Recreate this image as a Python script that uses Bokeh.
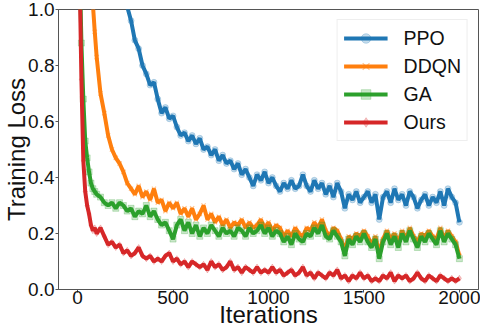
from bokeh.plotting import figure
from bokeh.models import Legend, LegendItem, FixedTicker, PrintfTickFormatter, Range1d
from bokeh.embed import file_html
from bokeh.resources import INLINE

# ---- data ----
iterations = [0, 10, 20, 30, 40, 50, 60, 70, 80, 90, 100] + list(range(120, 2001, 20))

ppo = [2.40, 2.30, 2.20, 2.10, 2.02, 1.95, 1.88, 1.82, 1.76, 1.71, 1.66,
       1.57, 1.48, 1.40, 1.32, 1.24, 1.16, 1.08, 1.01, 0.96, 0.89,
       0.86, 0.80, 0.77, 0.73, 0.74, 0.68, 0.63, 0.65, 0.61, 0.62,
       0.58, 0.55, 0.56, 0.53, 0.55, 0.52, 0.54, 0.50, 0.51, 0.48,
       0.50, 0.46, 0.48, 0.45, 0.46, 0.43, 0.45, 0.41, 0.43, 0.40,
       0.37, 0.41, 0.39, 0.42, 0.38, 0.40, 0.37, 0.35, 0.38, 0.36,
       0.39, 0.36, 0.37, 0.41, 0.37, 0.35, 0.39, 0.36, 0.38, 0.34,
       0.37, 0.33, 0.38, 0.35, 0.29, 0.34, 0.32, 0.35, 0.31, 0.33,
       0.35, 0.31, 0.34, 0.25, 0.33, 0.35, 0.31, 0.36, 0.32, 0.34,
       0.30, 0.35, 0.33, 0.29, 0.32, 0.34, 0.30, 0.33, 0.31, 0.35,
       0.30, 0.36, 0.33, 0.31, 0.24]

ddqn = [2.20, 2.00, 1.80, 1.60, 1.45, 1.32, 1.20, 1.10, 1.02, 0.92, 0.83,
        0.70, 0.63, 0.55, 0.50, 0.47, 0.45, 0.42, 0.38, 0.36, 0.34,
        0.37, 0.33, 0.35, 0.32, 0.36, 0.31, 0.32, 0.28, 0.31, 0.29,
        0.31, 0.27, 0.29, 0.26, 0.29, 0.25, 0.27, 0.30, 0.25, 0.27,
        0.24, 0.26, 0.23, 0.25, 0.22, 0.24, 0.23, 0.25, 0.22, 0.24,
        0.22, 0.23, 0.25, 0.22, 0.24, 0.21, 0.23, 0.22, 0.19, 0.21,
        0.19, 0.22, 0.20, 0.19, 0.22, 0.21, 0.24, 0.22, 0.25, 0.21,
        0.19, 0.22, 0.21, 0.18, 0.14, 0.19, 0.18, 0.20, 0.19, 0.21,
        0.19, 0.16, 0.19, 0.13, 0.18, 0.21, 0.18, 0.20, 0.17, 0.21,
        0.18, 0.22, 0.19, 0.17, 0.20, 0.19, 0.21, 0.19, 0.18, 0.22,
        0.18, 0.21, 0.19, 0.17, 0.12]

ga = [2.00, 1.20, 0.88, 0.68, 0.53, 0.47, 0.42, 0.38, 0.36, 0.35, 0.34,
      0.33, 0.31, 0.30, 0.31, 0.29, 0.31, 0.30, 0.28, 0.29, 0.26,
      0.28, 0.27, 0.30, 0.26, 0.28, 0.25, 0.23, 0.24, 0.21, 0.18,
      0.23, 0.25, 0.21, 0.24, 0.20, 0.23, 0.19, 0.22, 0.20, 0.23,
      0.21, 0.19, 0.22, 0.20, 0.21, 0.19, 0.22, 0.21, 0.19, 0.22,
      0.20, 0.21, 0.23, 0.20, 0.22, 0.19, 0.21, 0.20, 0.17, 0.19,
      0.16, 0.20, 0.18, 0.17, 0.20, 0.19, 0.22, 0.20, 0.23, 0.19,
      0.18, 0.21, 0.19, 0.17, 0.12, 0.18, 0.16, 0.19, 0.17, 0.20,
      0.17, 0.15, 0.18, 0.11, 0.17, 0.20, 0.16, 0.19, 0.15, 0.20,
      0.17, 0.21, 0.18, 0.15, 0.19, 0.17, 0.20, 0.18, 0.16, 0.21,
      0.17, 0.20, 0.18, 0.16, 0.11]

ours = [1.80, 1.15, 0.75, 0.46, 0.35, 0.30, 0.27, 0.23, 0.21, 0.22, 0.20,
        0.22, 0.19, 0.16, 0.17, 0.15, 0.16, 0.13, 0.14, 0.12, 0.13,
        0.15, 0.12, 0.11, 0.12, 0.10, 0.11, 0.10, 0.12, 0.13, 0.10,
        0.11, 0.09, 0.10, 0.08, 0.10, 0.09, 0.08, 0.09, 0.07, 0.10,
        0.08, 0.09, 0.07, 0.08, 0.10, 0.07, 0.08, 0.06, 0.08, 0.07,
        0.06, 0.08, 0.06, 0.07, 0.06, 0.08, 0.06, 0.07, 0.05, 0.06,
        0.07, 0.05, 0.06, 0.08, 0.05, 0.06, 0.04, 0.06, 0.05, 0.04,
        0.06, 0.05, 0.07, 0.04, 0.05, 0.03, 0.05, 0.04, 0.06, 0.04,
        0.05, 0.03, 0.04, 0.03, 0.05, 0.04, 0.06, 0.03, 0.05, 0.04,
        0.05, 0.03, 0.04, 0.06, 0.04, 0.03, 0.05, 0.04, 0.03, 0.05,
        0.04, 0.03, 0.04, 0.03, 0.04]

names = ["PPO", "DDQN", "GA", "Ours"]
series = [ppo, ddqn, ga, ours]
colors = ["#1f77b4", "#ff7f0e", "#2ca02c", "#d62728"]
markers = ["circle", "x", "square", "diamond"]
y_ticks = [0.0, 0.2, 0.4, 0.6, 0.8, 1.0]
x_ticks = [0, 500, 1000, 1500, 2000]

FONT = "Liberation Sans"

p = figure(width=480, height=330, output_backend="svg", toolbar_location=None,
           x_range=Range1d(-100, 2100), y_range=Range1d(0, 1),
           min_border_left=55, min_border_right=2, min_border_top=9, min_border_bottom=41)
p.background_fill_color = "white"
p.border_fill_color = "white"
p.outline_line_color = "#555555"
p.outline_line_width = 1
p.grid.visible = False

for ax in (p.xaxis[0], p.yaxis[0]):
    ax.axis_line_color = "#555555"
    ax.major_tick_line_color = "#555555"
    ax.minor_tick_line_color = None
    ax.major_tick_in = 0
    ax.major_tick_out = 3
    ax.major_label_text_font = FONT
    ax.major_label_text_font_size = "19px"
    ax.major_label_text_color = "#111111"
    ax.axis_label_text_font = FONT
    ax.axis_label_text_font_size = "24px"
    ax.axis_label_text_font_style = "normal"
    ax.axis_label_text_color = "#111111"

p.xaxis.ticker = FixedTicker(ticks=x_ticks)
p.yaxis.ticker = FixedTicker(ticks=y_ticks)
p.yaxis.formatter = PrintfTickFormatter(format="%.1f")
p.xaxis.formatter = PrintfTickFormatter(format="%d")
p.xaxis.major_label_standoff = -2
p.yaxis.major_label_standoff = 1
p.xaxis.axis_label = "Iterations"
p.yaxis.axis_label = "Training Loss"
p.xaxis.axis_label_standoff = -6
p.yaxis.axis_label_standoff = -5

items = []
for name, ys, c, m in zip(names, series, colors, markers):
    if m == "x":
        sr = p.scatter(iterations, ys, marker=m, size=6, line_color=c, line_alpha=0.45, line_width=1.2)
    else:
        sr = p.scatter(iterations, ys, marker=m, size=6, fill_color=c, fill_alpha=0.25,
                       line_color=c, line_alpha=0.25, line_width=1)
    lr = p.line(iterations, ys, line_color=c, line_width=4)
    items.append(LegendItem(label=name, renderers=[lr, sr]))

legend = Legend(items=items, location="top_right")
legend.label_text_font = FONT
legend.label_text_font_size = "19.5px"
legend.label_text_color = "#111111"
legend.glyph_width = 44
legend.glyph_height = 24
legend.label_height = 24
legend.label_standoff = 16
legend.spacing = 4
legend.padding = 6
legend.margin = 10
legend.border_line_color = "#dddddd"
legend.border_line_width = 1
legend.background_fill_alpha = 0.9
p.add_layout(legend)

open("out.html", "w").write(file_html(p, INLINE))
